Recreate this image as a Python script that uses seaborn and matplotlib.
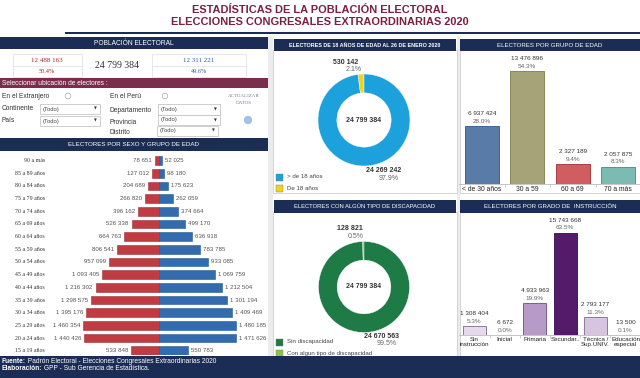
import numpy as np
import pandas as pd
import matplotlib
matplotlib.use("Agg")
import matplotlib.pyplot as plt
import seaborn as sns
from matplotlib.patches import Rectangle, Circle
from matplotlib.transforms import blended_transform_factory

# ---------------- data ----------------
total_electores = 24799384
mujeres_total = 12488163
hombres_total = 12311221
mujeres_pct = "50.4%"
hombres_pct = "49.6%"

edad_labels = ["90 a más", "85 a 89 años", "80 a 84 años", "75 a 79 años",
               "70 a 74 años", "65 a 69 años", "60 a 64 años", "55 a 59 años",
               "50 a 54 años", "45 a 49 años", "40 a 44 años", "35 a 39 años",
               "30 a 34 años", "25 a 29 años", "20 a 24 años", "15 a 19 años"]
mujeres = [78651, 127012, 204689, 266820, 396162, 526338, 664763, 806541,
           957099, 1093405, 1216302, 1298575, 1395176, 1460354, 1440426, 533848]
hombres = [52025, 98180, 175623, 262059, 374664, 499170, 636918, 783785,
           933085, 1069759, 1212504, 1301194, 1409469, 1480185, 1471626, 550783]

edad18_labels = ["De 18 años", "> de 18 años"]
edad18_values = [530142, 24269242]
edad18_pct = ["2.1%", "97.9%"]

disc_labels = ["Con algun tipo de discapacidad", "Sin discapacidad"]
disc_values = [128821, 24670563]
disc_pct = ["0.5%", "99.5%"]

grupo_labels = ["< de 30 años", "30 a 59", "60 a 69", "70 a más"]
grupo_values = [6937424, 13476896, 2327189, 2057875]
grupo_pct = ["28.0%", "54.3%", "9.4%", "8.3%"]

instr_labels = ["Sin\ninstrucción", "Inicial", "Primaria", "Secundar..",
                "Técnica /\nSup.UNIV.", "Educación\nespecial"]
instr_values = [1308404, 6672, 4933963, 15743668, 2793177, 13500]
instr_pct = ["5.3%", "0.0%", "19.9%", "63.5%", "11.3%", "0.1%"]

# ---------------- style ----------------
sns.set_theme(style="white")
plt.rcParams["font.family"] = ["Liberation Sans", "DejaVu Sans"]

NAVY = "#1B2D55"
TITLE = "#7D1F3D"
MAROON = "#7A2D4C"
RED = "#D7262E"
BLUE = "#1F6BC2"
W, H = 640, 378

fig = plt.figure(figsize=(6.4, 3.78), dpi=100)
fig.patch.set_facecolor("white")

bg = fig.add_axes([0, 0, 1, 1])
bg.set_xlim(0, W)
bg.set_ylim(H, 0)
bg.axis("off")
bg.set_zorder(0)


def px_axes(x0, y0, x1, y1):
    a = fig.add_axes([x0 / W, 1 - y1 / H, (x1 - x0) / W, (y1 - y0) / H])
    a.set_zorder(2)
    a.patch.set_alpha(0)
    return a


def fmt(v):
    return f"{v:,}".replace(",", " ")


def header(x0, x1, y0, y1, text, fs=4.5, weight="normal"):
    bg.add_patch(Rectangle((x0, y0), x1 - x0, y1 - y0, color=NAVY, lw=0))
    bg.text((x0 + x1) / 2, (y0 + y1) / 2 + 0.3, text, ha="center", va="center",
            color="white", fontsize=fs, weight=weight)


def panel(x0, y0, x1, y1):
    bg.add_patch(Rectangle((x0, y0), x1 - x0, y1 - y0, facecolor="white",
                           edgecolor="#cfcfcf", lw=0.6))


# ---------------- title ----------------
bg.text(320, 10, "ESTADÍSTICAS DE LA POBLACIÓN ELECTORAL", ha="center",
        va="center", fontsize=7.9, weight="bold", color=TITLE)
bg.text(320, 22, "ELECCIONES CONGRESALES EXTRAORDINARIAS 2020", ha="center",
        va="center", fontsize=7.9, weight="bold", color=TITLE)
bg.add_patch(Rectangle((65, 31.5), W - 65, 2.6, color=NAVY, lw=0))

# column gaps background
bg.add_patch(Rectangle((268, 36), 5, 320, color="#ececec", lw=0))
bg.add_patch(Rectangle((457, 36), 2.5, 320, color="#ececec", lw=0))

# panels
panel(273, 50, 457, 193)
panel(273, 212, 457, 356)
panel(459.5, 50, 640, 193)
panel(459.5, 212, 640, 356)

# ---------------- left top ----------------
header(0, 268, 37, 49, "POBLACIÓN ELECTORAL", fs=4.8)
for (bx0, bx1) in [(13, 82), (152, 246)]:
    bg.add_patch(Rectangle((bx0, 54), bx1 - bx0, 23, facecolor="white",
                           edgecolor="#dddddd", lw=0.5))
    bg.plot([bx0, bx1], [66, 66], color="#dddddd", lw=0.5)
bg.text(47, 60, fmt(mujeres_total), ha="center", va="center", fontsize=5,
        family="Liberation Serif", color="#B5202A")
bg.text(47, 71.5, mujeres_pct, ha="center", va="center", fontsize=4.5,
        family="Liberation Serif", color="#B5202A")
bg.text(199, 60, fmt(hombres_total), ha="center", va="center", fontsize=5,
        family="Liberation Serif", color="#2B5FA8")
bg.text(199, 71.5, hombres_pct, ha="center", va="center", fontsize=4.5,
        family="Liberation Serif", color="#2B5FA8")
bg.text(117, 66, fmt(total_electores), ha="center", va="center", fontsize=7,
        family="Liberation Serif", color="#333333")

# selector band
bg.add_patch(Rectangle((0, 78), 268, 10, color=MAROON, lw=0))
bg.text(2, 83.3, "Seleccionar ubicación de electores :", ha="left",
        va="center", fontsize=4.8, color="white")

lab_kw = dict(ha="left", va="center", fontsize=4.8, color="#333333")
bg.text(2, 96, "En el Extranjero", **lab_kw)
bg.add_patch(Circle((68, 96), 2.8, facecolor="white", edgecolor="#aaaaaa", lw=0.5))
bg.text(110, 96, "En el Perú", **lab_kw)
bg.add_patch(Circle((165, 96), 2.8, facecolor="white", edgecolor="#aaaaaa", lw=0.5))
bg.text(244, 96, "ACTUALIZAR", ha="center", va="center", fontsize=3.6,
        family="Liberation Serif", color="#6B7A99")
bg.text(244, 103, "DATOS", ha="center", va="center", fontsize=3.6,
        family="Liberation Serif", color="#6B7A99")
bg.add_patch(Circle((248, 120), 4.2, color="#A3BFEA", lw=0))

bg.text(2, 109, "Continente", **lab_kw)
bg.text(2, 121, "País", **lab_kw)
bg.text(110, 110, "Departamento", **lab_kw)
bg.text(110, 122, "Provincia", **lab_kw)
bg.text(110, 132, "Distrito", **lab_kw)


def dropdown(x0, y0, x1, y1):
    bg.add_patch(Rectangle((x0, y0), x1 - x0, y1 - y0, facecolor="white",
                           edgecolor="#bbbbbb", lw=0.5))
    bg.text(x0 + 3, (y0 + y1) / 2, "(Todo)", ha="left", va="center",
            fontsize=4.2, color="#444444")
    bg.text(x1 - 5, (y0 + y1) / 2, "▼", ha="center", va="center",
            fontsize=2.6, color="#333333", family="DejaVu Sans")


dropdown(40, 104, 100, 114)
dropdown(40, 116, 100, 126)
dropdown(158, 104, 220, 114.5)
dropdown(158, 115, 220, 125)
dropdown(157, 125.5, 218, 135.5)

# ---------------- pyramid ----------------
header(0, 268, 138, 150.5, "ELECTORES POR SEXO Y GRUPO DE EDAD", fs=4.5)
axp = px_axes(0, 154.3, 268, 355)
df = pd.DataFrame({
    "edad": edad_labels * 2,
    "sexo": ["Mujeres"] * len(edad_labels) + ["Hombres"] * len(edad_labels),
    "valor": [-v for v in mujeres] + list(hombres),
})
sns.barplot(data=df, x="valor", y="edad", hue="sexo", order=edad_labels,
            palette={"Mujeres": RED, "Hombres": BLUE}, orient="h",
            dodge=False, width=0.7, errorbar=None, legend=False, ax=axp,
            linewidth=0.4)
for p in axp.patches:
    fc = p.get_facecolor()
    p.set_edgecolor(tuple(c * 0.8 for c in fc[:3]))
px_per = 77 / 1480185
axp.set_xlim(-159 / px_per, (268 - 159) / px_per)
axp.set_ylim(15.34, -0.5)
axp.axis("off")
for i, (m, h) in enumerate(zip(mujeres, hombres)):
    axp.annotate(fmt(m), xy=(-m, i), xytext=(-3, 0), textcoords="offset pixels",
                 ha="right", va="center", fontsize=4.4, color="#555555")
    axp.annotate(fmt(h), xy=(h, i), xytext=(3, 0), textcoords="offset pixels",
                 ha="left", va="center", fontsize=4.4, color="#555555")
trans = blended_transform_factory(bg.transData, axp.transData)
for i, lab in enumerate(edad_labels):
    axp.text(45, i, lab, transform=trans, ha="right", va="center",
             fontsize=4.2, family="Liberation Serif", color="#333333")

# ---------------- donuts ----------------
def donut(cx, cy, r, values, colors, center_text):
    a = px_axes(cx - r, cy - r, cx + r, cy + r)
    a.pie(values, colors=colors, startangle=90, counterclock=True,
          wedgeprops=dict(width=0.41, edgecolor="white", linewidth=0.3))
    a.set_xlim(-1, 1)
    a.set_ylim(-1, 1)
    a.set_aspect("equal")
    a.text(0, 0, center_text, ha="center", va="center", fontsize=5,
           weight="bold", color="#333333")
    return a


header(274, 456, 39, 50.5, "ELECTORES DE 18 AÑOS DE EDAD AL 26 DE ENERO 2020",
       fs=3.9, weight="bold")
c18 = ["#F2D31B", "#1DA1DC"]
donut(364, 120, 46, edad18_values, c18, fmt(total_electores))
bg.text(346, 63, fmt(edad18_values[0]), ha="center", va="center", fontsize=5,
        weight="bold", color="#333333")
bg.text(354, 69.5, edad18_pct[0], ha="center", va="center", fontsize=5,
        color="#666666")
bg.text(384, 170, fmt(edad18_values[1]), ha="center", va="center", fontsize=5,
        weight="bold", color="#333333")
bg.text(389, 178.5, edad18_pct[1], ha="center", va="center", fontsize=5,
        color="#666666")
for yy, col, lab in [(177, c18[1], edad18_labels[1]), (188, c18[0], edad18_labels[0])]:
    bg.add_patch(Rectangle((276, yy - 3.5), 7, 7, facecolor=col,
                           edgecolor="#777777", lw=0.3))
    bg.text(287, yy, lab, ha="left", va="center", fontsize=4.4, color="#444444")

header(274, 456, 200, 212.5, "ELECTORES CON ALGÚN TIPO DE DISCAPACIDAD", fs=4.2)
cdis = ["#8CC43F", "#1E7B45"]
donut(364, 287, 45.5, disc_values, cdis, fmt(total_electores))
bg.text(350, 228, fmt(disc_values[0]), ha="center", va="center", fontsize=5,
        weight="bold", color="#333333")
bg.text(356, 236, disc_pct[0], ha="center", va="center", fontsize=5,
        color="#666666")
bg.text(381, 336, fmt(disc_values[1]), ha="center", va="center", fontsize=5,
        weight="bold", color="#333333")
bg.text(387, 343.5, disc_pct[1], ha="center", va="center", fontsize=5,
        color="#666666")
for yy, col, lab in [(342, cdis[1], disc_labels[1]), (353, cdis[0], disc_labels[0])]:
    bg.add_patch(Rectangle((276, yy - 3.5), 7, 7, facecolor=col,
                           edgecolor="#777777", lw=0.3))
    bg.text(287, yy, lab, ha="left", va="center", fontsize=4.4, color="#444444")

# ---------------- bar charts ----------------
def bar_chart(ax, labels, values, pcts, colors, edges, width, ymax, tick_fs):
    sns.barplot(x=labels, y=values, hue=labels, order=labels, hue_order=labels,
                palette=colors, legend=False, width=width, errorbar=None,
                ax=ax, linewidth=0.6)
    for p, ec in zip(ax.patches, edges):
        p.set_edgecolor(ec)
    ax.set_ylim(0, ymax)
    ax.set_xlim(-0.5, len(labels) - 0.5)
    for s in ["top", "right", "left"]:
        ax.spines[s].set_visible(False)
    ax.spines["bottom"].set_color("#bbbbbb")
    ax.spines["bottom"].set_linewidth(0.6)
    ax.set_yticks([])
    ax.set_ylabel("")
    ax.set_xlabel("")
    ax.set_xticks(range(len(labels)))
    ax.set_xticklabels(labels, fontsize=tick_fs, color="#222222", linespacing=1.1)
    ax.set_xticks(np.arange(0.5, len(labels) - 0.5, 1), minor=True)
    ax.tick_params(axis="x", which="major", length=0, pad=1.5)
    ax.tick_params(axis="x", which="minor", length=2.5, width=0.5,
                   color="#bbbbbb", bottom=True)
    for i, (v, pc) in enumerate(zip(values, pcts)):
        ax.annotate(fmt(v), xy=(i, v), xytext=(0, 12.5), textcoords="offset pixels",
                    ha="center", va="center", fontsize=4.6, color="#333333")
        ax.annotate(pc, xy=(i, v), xytext=(0, 4.8), textcoords="offset pixels",
                    ha="center", va="center", fontsize=4.6, color="#666666")


header(460, 640, 39, 50.5, "ELECTORES POR GRUPO DE EDAD", fs=4.4)
ax1 = px_axes(459, 52, 641, 184)
bar_chart(ax1, grupo_labels, grupo_values, grupo_pct,
          ["#4C79B5", "#ADAA71", "#E34B4F", "#70C6B8"],
          ["#2E5788", "#7E7B48", "#A8292E", "#3F8E83"],
          0.75, 13476896 * 132 / 113, 4.9)

header(460, 640, 200, 212.5, "ELECTORES POR GRADO DE  INSTRUCCIÓN", fs=4.4)
ax2 = px_axes(459.4, 213, 640.6, 335)
bar_chart(ax2, instr_labels, instr_values, instr_pct,
          ["#E6D6EE", "#E6D6EE", "#B793D0", "#5A0E78", "#D8BFE6", "#E6D6EE"],
          ["#7E6A8E", "#7E6A8E", "#6E4B88", "#3A0650", "#7E6A8E", "#7E6A8E"],
          0.76, 15743668 * 122 / 102.3, 4.5)

# ---------------- footer ----------------
bg.add_patch(Rectangle((0, 356), W, H - 356, color=NAVY, lw=0))
t1 = bg.text(2, 361.5, "Fuente:", ha="left", va="center", fontsize=4.8,
             weight="bold", color="white")
bg.annotate(" Padrón Electoral - Elecciones Congresales Extraordinarias 2020",
            xy=(1, 0.5), xycoords=t1, ha="left", va="center", fontsize=4.8,
            color="white")
t2 = bg.text(2, 369, "Elaboración:", ha="left", va="center", fontsize=4.8,
             weight="bold", color="white")
bg.annotate(" GPP - Sub Gerencia de Estadística.", xy=(1, 0.5), xycoords=t2,
            ha="left", va="center", fontsize=4.8, color="white")

fig.savefig("out.png", dpi=100, facecolor="white")
